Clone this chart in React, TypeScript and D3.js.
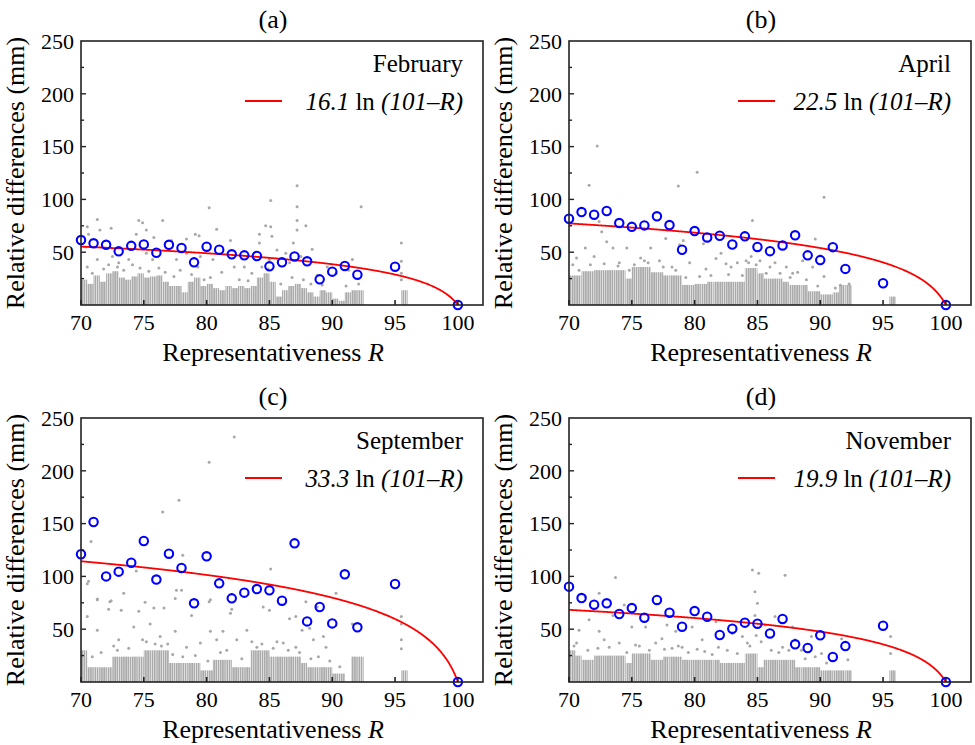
import React from "react";
import * as d3 from "d3";

// R values of the class means (blue circles)
const rValues = [70, 71, 72, 73, 74, 75, 76, 77, 78, 79, 80, 81, 82, 83, 84, 85, 86, 87, 88, 89, 90, 91, 92, 95, 100];

const febMeans = [61.5, 58.4, 57, 50.8, 56, 57.4, 49.5, 57, 54, 40.4, 55.2, 52.4, 48, 47, 46.4, 36.6, 40.4, 46, 41.4, 24.3, 31.6, 37, 28.7, 36.3, 0];
const aprMeans = [81.7, 88, 85.5, 89, 77.6, 74, 75.4, 84, 75.7, 52.3, 70, 64, 65.6, 57.3, 65, 55, 51, 56.4, 66, 47, 42.5, 54.8, 34.2, 20.6, 0];
const sepMeans = [121, 151.5, 100, 104.5, 113, 133.5, 97, 121.5, 108, 74.5, 119, 93.4, 79.2, 84.6, 88, 86.8, 77, 131.3, 57.4, 71, 55.5, 102, 51.8, 92.8, 0];
const novMeans = [90.3, 79.5, 73.2, 74.5, 64.4, 70, 60.9, 77.7, 65.6, 52.4, 67.2, 61.8, 44.5, 50.5, 56.2, 55.2, 46, 59.7, 35.7, 32.2, 44.2, 23.7, 34, 53.3, 0];

// fitted coefficients a in a·ln(101−R)
const coefs = [16.1, 22.5, 33.3, 19.9];
const months = ["February", "April", "September", "November"];
const letters = ["(a)", "(b)", "(c)", "(d)"];

// dense station cloud, summarised as [R start of 0.5-wide column, top (mm)]
const febColumns = [
  [70, 24], [70.5, 20], [71, 28], [71.5, 22], [72, 30], [72.5, 32], [73, 26], [73.5, 24], [74, 27], [74.5, 30],
  [75, 26], [75.5, 27], [76, 28], [76.5, 22], [77, 18], [77.5, 18], [78, 12], [78.5, 22], [79, 26], [79.5, 18],
  [80, 20], [80.5, 16], [81, 14], [81.5, 18], [82, 16], [82.5, 18], [83, 16], [83.5, 18], [84, 26], [84.5, 30],
  [85, 22], [85.5, 8], [86, 14], [86.5, 18], [87, 20], [87.5, 16], [88, 12], [88.5, 8], [89, 14], [89.5, 12],
  [90, 6], [90.5, 4], [91, 12], [91.5, 14], [92, 14], [95.5, 14],
];
const aprColumns = [
  [70, 28], [70.5, 28], [71, 32], [71.5, 32], [72, 33], [72.5, 33], [73, 33], [73.5, 33], [74, 33], [74.5, 25],
  [75, 36], [75.5, 36], [76, 36], [76.5, 31], [77, 31], [77.5, 28], [78, 28], [78.5, 28], [79, 19], [79.5, 19],
  [80, 20], [80.5, 20], [81, 22], [81.5, 22], [82, 22], [82.5, 22], [83, 22], [83.5, 22], [84, 35], [84.5, 35],
  [85, 30], [85.5, 25], [86, 25], [86.5, 25], [87, 22], [87.5, 19], [88, 19], [88.5, 19], [89, 13], [89.5, 13],
  [90, 10], [90.5, 10], [91, 12], [91.5, 19], [92, 19], [95.5, 8],
];
const sepColumns = [
  [70, 30], [70.5, 14], [71, 14], [71.5, 14], [72, 14], [72.5, 24], [73, 24], [73.5, 24], [74, 24], [74.5, 24],
  [75, 30], [75.5, 30], [76, 30], [76.5, 30], [77, 18], [77.5, 18], [78, 18], [78.5, 18], [79, 18], [79.5, 11],
  [80, 11], [80.5, 21], [81, 21], [81.5, 21], [82, 14], [82.5, 14], [83, 14], [83.5, 30], [84, 30], [84.5, 30],
  [85, 24], [85.5, 24], [86, 24], [86.5, 24], [87, 24], [87.5, 18], [88, 14], [88.5, 14], [89, 14], [89.5, 14],
  [90, 8], [90.5, 8], [91.5, 24], [92, 24], [95.5, 11],
];
const novColumns = [
  [70, 30], [70.5, 25], [71, 21], [71.5, 21], [72, 25], [72.5, 25], [73, 25], [73.5, 25], [74, 25], [74.5, 18],
  [75, 27], [75.5, 27], [76, 27], [76.5, 21], [77, 21], [77.5, 24], [78, 24], [78.5, 24], [79, 21], [79.5, 21],
  [80, 21], [80.5, 21], [81, 21], [81.5, 21], [82, 18], [82.5, 18], [83, 18], [83.5, 18], [84, 27], [84.5, 27],
  [85, 14], [85.5, 21], [86, 21], [86.5, 21], [87, 21], [87.5, 21], [88, 14], [88.5, 14], [89, 14], [89.5, 14],
  [90, 11], [90.5, 11], [91, 11], [91.5, 11], [92, 11], [95.5, 11],
];

// scattered stations above the dense cloud, [R, mm]
const febDots = [
  [70.5, 74], [71.3, 81], [70.6, 67], [71.5, 71], [72.4, 72.6], [74.6, 80], [74.9, 78], [74.4, 67], [75.2, 71], [76.5, 80],
  [75.8, 64], [77.2, 61], [78.4, 62.6], [79.1, 67], [79.4, 65.6], [80.2, 92], [80.8, 71.7], [84.7, 75], [85.1, 99], [85.1, 74],
  [85.2, 65], [87.2, 113], [87.2, 93], [87.2, 80], [87.2, 71], [87.9, 75], [88.4, 52.7], [92.3, 93], [95.5, 58.6], [95.5, 41.5],
  [91.6, 43], [84.2, 58.6], [84.2, 67], [85, 43], [85.6, 52], [86.3, 49], [86.9, 58.6], [79.5, 46], [79.3, 36], [81.9, 61],
  [82.2, 36], [83, 36], [70.4, 55], [70.5, 36], [71.3, 43], [72.5, 46], [73, 40], [73.8, 43], [75.2, 49], [75.7, 43],
  [77.6, 43], [78.4, 49], [80.5, 43], [86.6, 40], [87.5, 46], [89.6, 36], [90.3, 30], [91.3, 33], [74.1, 38], [76.2, 35],
  [81.2, 31], [83.6, 30], [88.8, 28], [72.9, 36], [77.9, 33], [70.9, 30], [71.8, 34], [72.2, 38], [73.4, 33], [74.7, 35],
  [75.4, 32], [76.7, 31], [77.4, 27], [78.8, 29], [79.8, 24], [80.3, 26], [82.6, 24], [83.3, 23], [84.4, 36], [84.9, 34],
  [85.9, 20], [86.8, 26], [87.7, 24], [88.3, 20], [89.2, 19], [91.1, 18], [92.1, 20], [95.5, 24], [95.5, 30],
];
const aprDots = [
  [72.25, 150.5], [71.6, 113.4], [80.2, 125.8], [78.7, 112.6], [90.3, 102], [84.6, 80], [89.6, 62.5], [72.4, 79], [72.6, 69.4], [73, 60],
  [73.5, 54], [70.6, 44.5], [71.3, 54], [74.6, 54], [75.7, 44.5], [76.5, 54], [77.7, 63], [77.8, 71], [78.8, 57], [79.1, 61],
  [80.7, 58], [81.7, 44], [82.1, 49], [82.5, 39], [82.9, 36], [84.1, 42], [85.2, 42], [86, 36], [87.3, 36], [87.8, 30],
  [88.6, 42], [89.4, 36], [90.3, 27], [91.6, 18.6], [92.3, 20], [72, 46], [74, 40], [75.2, 38], [76, 42], [79.6, 40],
  [80.9, 34], [83.4, 40], [84.5, 46], [86.4, 40], [88.2, 31], [70.3, 38], [77.2, 42], [78.2, 36], [70.8, 33], [71.7, 38],
  [72.8, 39], [73.9, 37], [74.8, 33], [76.3, 40], [77.5, 36], [78.5, 33], [79.3, 26], [80.4, 27], [81.3, 28], [82.7, 29],
  [83.8, 28], [84.3, 40], [84.9, 38], [85.7, 30], [86.8, 30], [87.6, 26], [88.9, 24], [89.8, 18], [91.2, 16],
];
const sepDots = [
  [82.2, 232], [80.2, 208], [77.8, 172], [76.5, 161], [70.8, 133], [70.6, 95.5], [71.3, 78.5], [72.2, 69], [72.4, 77], [73.2, 68],
  [74.4, 105], [75.1, 75.5], [78.1, 120], [78, 87], [77.5, 79], [80.2, 76], [82, 69], [85.1, 107], [90.3, 84], [87.6, 49],
  [88.8, 71], [95.5, 62], [95.5, 40], [95.5, 31.5], [70.5, 93], [71.3, 78], [70.5, 62], [72.3, 76], [73.4, 84], [74.6, 67],
  [75.8, 70], [76.6, 70], [77.6, 87], [77.5, 48], [78.8, 63], [80.3, 78], [80.3, 48], [81.3, 48], [81.9, 65], [83.2, 49],
  [84.5, 71], [85, 68], [86.6, 60], [87.1, 62], [87.9, 76], [88.2, 51], [88.5, 40], [89.3, 43], [91.6, 55], [95.5, 55],
  [71.3, 49], [73, 40], [74.2, 52], [75.5, 55], [76.3, 43], [78.4, 33], [79.5, 37], [80.8, 40], [82.4, 40], [84, 33],
  [86.1, 37], [87.1, 33], [89.5, 33], [90.6, 14.5], [72.6, 34], [75.2, 38], [76.9, 36], [81.6, 30], [85.6, 38], [88.9, 24],
  [70.9, 24], [71.6, 28], [72.9, 30], [73.8, 32], [74.9, 40], [75.9, 36], [76.4, 34], [77.3, 26], [78.1, 24], [79.1, 25],
  [80.1, 20], [81.1, 28], [82.8, 22], [83.6, 38], [84.4, 36], [85.3, 32], [86.5, 30], [87.4, 28], [88.3, 22], [89.8, 20],
];
const novDots = [
  [84.6, 106], [85.1, 103], [84.8, 85.5], [85, 74.5], [87.2, 101], [73.7, 99], [72.4, 84], [71.3, 81], [74.4, 73], [73.5, 63],
  [71.6, 59], [72.4, 48], [75, 52], [76.1, 52], [77.4, 41], [77.8, 54], [78.5, 48], [79.8, 52], [80.6, 40], [81.7, 57],
  [83, 46], [83.8, 43], [84.8, 63], [86.4, 62], [85.6, 54], [87.8, 52], [88, 40], [89.3, 43], [91.7, 41], [95.6, 43],
  [95.6, 27], [70.8, 49], [70.6, 37], [74, 37], [76.9, 37], [79, 33], [81.9, 33], [84.2, 37], [87, 33], [88.5, 30],
  [90.1, 27], [92.2, 21], [72.8, 40], [75.6, 34], [78.2, 32], [80.2, 31], [82.6, 30], [86.1, 30], [89.6, 24], [70.4, 34],
  [71.5, 30], [72.3, 32], [73.2, 33], [74.6, 28], [75.3, 35], [76.4, 30], [77.6, 31], [78.7, 34], [79.5, 28], [80.8, 29],
  [81.4, 26], [83.4, 27], [84.4, 34], [84.9, 44], [85.3, 38], [86.7, 28], [87.5, 30], [88.8, 22], [90.5, 18],
];

const means = [febMeans, aprMeans, sepMeans, novMeans];
const columns = [febColumns, aprColumns, sepColumns, novColumns];
const dots = [febDots, aprDots, sepDots, novDots];

const W = 975;
const H = 745;
const pw = 402;
const ph = 264;
const origins = [
  [81, 41],
  [569, 41],
  [81, 418],
  [569, 418],
];
const serif = "Liberation Serif, Times New Roman, serif";

const Panel = ({ i }: { i: number }) => {
  const [left, top] = origins[i];
  const x = d3.scaleLinear().domain([70, 102]).range([left, left + pw]);
  const y = d3.scaleLinear().domain([0, 250]).range([top + ph, top]);
  const bottom = top + ph;
  const right = left + pw;
  const a = coefs[i];
  const fit = d3
    .line<number>()
    .x((r) => x(r))
    .y((r) => y(a * Math.log(101 - r)));
  const curveR = d3.range(70, 100.0001, 0.05);
  const cx = left + pw / 2 - 9;

  return (
    <g>
      <text x={cx} y={top - 13} textAnchor="middle" fontSize={26}>
        {letters[i]}
      </text>

      {columns[i].map(([r, v], k) => (
        <rect
          key={"c" + k}
          x={x(r)}
          y={y(v)}
          width={x(r + 0.5) - x(r)}
          height={bottom - y(v)}
          fill="url(#stripes)"
        />
      ))}
      {dots[i].map(([r, v], k) => (
        <circle key={"d" + k} cx={x(r)} cy={y(v)} r={1.5} fill="#a8a8a8" />
      ))}

      <path d={fit(curveR) ?? ""} fill="none" stroke="#ff0000" strokeWidth={1.8} />

      {rValues.map((r, k) => (
        <circle
          key={"m" + k}
          cx={x(r)}
          cy={y(means[i][k])}
          r={4.2}
          fill="none"
          stroke="#0000ff"
          strokeWidth={2.1}
        />
      ))}

      <rect x={left} y={top} width={pw} height={ph} fill="none" stroke="#222" strokeWidth={1.6} />

      {x.ticks(7).filter((t) => t <= 100).map((t) => (
        <g key={"x" + t}>
          <line x1={x(t)} x2={x(t)} y1={bottom} y2={bottom - 5} stroke="#222" strokeWidth={1.6} />
          <text x={x(t)} y={bottom + 25} textAnchor="middle" fontSize={22}>
            {t}
          </text>
        </g>
      ))}
      {d3.range(25, 250, 25).map((t) => (
        <line
          key={"ym" + t}
          x1={left}
          x2={left + (t % 50 === 0 ? 5 : 3)}
          y1={y(t)}
          y2={y(t)}
          stroke="#222"
          strokeWidth={1.4}
        />
      ))}
      {[50, 100, 150, 200, 250].map((t) => (
        <text key={"yl" + t} x={left - 7} y={y(t)} dy="0.35em" textAnchor="end" fontSize={22}>
          {t}
        </text>
      ))}

      <text
        transform={`translate(${left - 57},${(top + bottom) / 2}) rotate(-90)`}
        textAnchor="middle"
        fontSize={26}
      >
        Relative differences (mm)
      </text>
      <text x={cx} y={bottom + 56} textAnchor="middle" fontSize={26}>
        Representativeness <tspan fontStyle="italic">R</tspan>
      </text>

      <text x={right - 20} y={top + 31} textAnchor="end" fontSize={25}>
        {months[i]}
      </text>
      <text x={right - 20} y={top + 69} textAnchor="end" fontSize={25}>
        <tspan fontStyle="italic">{a.toFixed(1)}</tspan>
        {" ln "}
        <tspan fontStyle="italic">(101–R)</tspan>
      </text>
      <line
        x1={right - 238 + (i % 2 ? 5 : 0)}
        x2={right - 201 + (i % 2 ? 5 : 0)}
        y1={top + 60}
        y2={top + 60}
        stroke="#ff0000"
        strokeWidth={1.8}
      />
    </g>
  );
};

export default function App() {
  return (
    <div style={{ position: "absolute", left: 0, top: 0, background: "#fff" }}>
      <svg
        width={W}
        height={H}
        viewBox={`0 0 ${W} ${H}`}
        style={{ display: "block", fontFamily: serif }}
      >
        <defs>
          <pattern id="stripes" width={2.2} height={3} patternUnits="userSpaceOnUse">
            <rect x={0} y={0} width={1.7} height={3} fill="#aaaaaa" />
          </pattern>
        </defs>
        <rect width={W} height={H} fill="#fff" />
        {[0, 1, 2, 3].map((i) => (
          <Panel key={i} i={i} />
        ))}
      </svg>
    </div>
  );
}
